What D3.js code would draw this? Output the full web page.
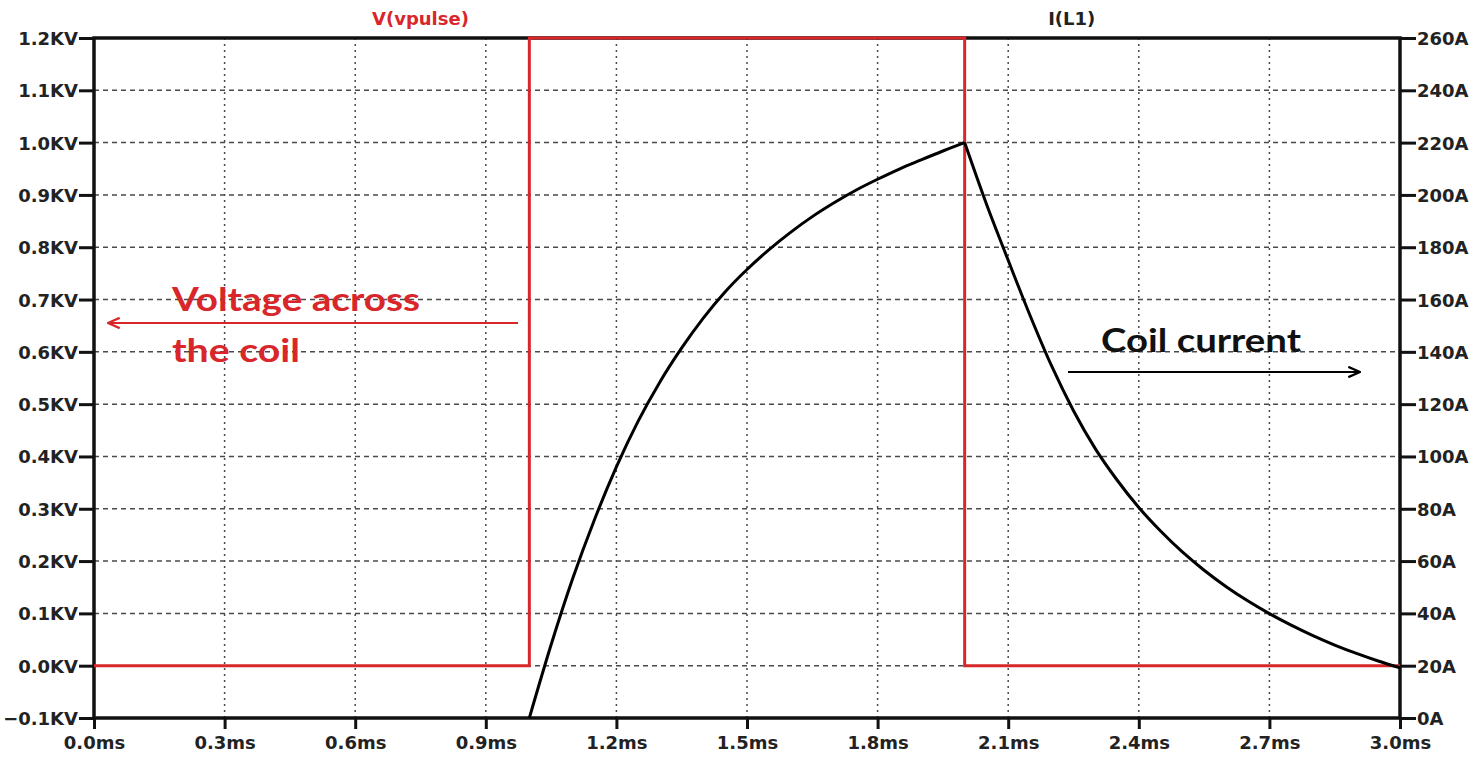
<!DOCTYPE html>
<html>
<head>
<meta charset="utf-8">
<script src="https://cdn.jsdelivr.net/npm/d3@7"></script>
<style>
  body { margin: 0; background: #fff; }
  .tick text { font-family: "DejaVu Sans", sans-serif; font-weight: bold; font-size: 18px; fill: #222; }
</style>
</head>
<body>
<div id="chart"></div>
<script>
// Tick labels / axis values
const timeTicks = [0, 0.3, 0.6, 0.9, 1.2, 1.5, 1.8, 2.1, 2.4, 2.7, 3.0];   // ms
const voltTicks = [-0.1, 0, 0.1, 0.2, 0.3, 0.4, 0.5, 0.6, 0.7, 0.8, 0.9, 1.0, 1.1, 1.2]; // KV
const ampTicks = [0, 20, 40, 60, 80, 100, 120, 140, 160, 180, 200, 220, 240, 260]; // A

// V(vpulse): square pulse
const pulseTime = [0, 1.0, 1.0, 2.0, 2.0, 3.0];
const pulseVolt = [0, 0, 1.2, 1.2, 0, 0];

// I(L1): coil current, read every 0.05ms; rising part (pulse on) and falling part (pulse off)
const riseTime = [1.0, 1.05, 1.1, 1.15, 1.2, 1.25, 1.3, 1.35, 1.4, 1.45, 1.5,
                  1.55, 1.6, 1.65, 1.7, 1.75, 1.8, 1.85, 1.9, 1.95, 2.0];
const riseAmps = [0, 28, 53.5, 76, 96, 113.5, 128.5, 141.5, 153, 163, 171.5,
                  179, 185.7, 191.7, 197, 201.8, 206, 209.9, 213.4, 216.8, 220];
const fallTime = [2.0, 2.05, 2.1, 2.15, 2.2, 2.25, 2.3, 2.35, 2.4, 2.45, 2.5,
                  2.55, 2.6, 2.65, 2.7, 2.75, 2.8, 2.85, 2.9, 2.95, 3.0];
const fallAmps = [220, 196.5, 175, 154, 134.5, 117.5, 103, 91, 80.5, 71.5, 63.5,
                  56.5, 50.3, 44.8, 39.9, 35.5, 31.5, 27.9, 24.7, 21.8, 19.2];

const red = "#d8262b";

const W = 1475, H = 759;
const margin = { top: 38, right: 75, bottom: 41, left: 94 },
    width = W - margin.left - margin.right,
    height = H - margin.top - margin.bottom;

const svg = d3.select("#chart")
    .append("svg")
    .attr("width", W)
    .attr("height", H)
    .append("g")
    .attr("transform", `translate(${margin.left},${margin.top})`);

const x = d3.scaleLinear().domain([0, 3]).range([0, width]);
const yV = d3.scaleLinear().domain([-0.1, 1.2]).range([height, 0]);
const yA = d3.scaleLinear().domain([0, 260]).range([height, 0]);

// Lưới: ngang gạch, dọc chấm
svg.append("g")
    .selectAll("line")
    .data(voltTicks.slice(1, -1))
    .enter()
    .append("line")
    .attr("x1", 0).attr("x2", width)
    .attr("y1", d => yV(d)).attr("y2", d => yV(d))
    .attr("stroke", "#4a4a4a")
    .attr("stroke-width", 1.5)
    .attr("stroke-dasharray", "5,4");

svg.append("g")
    .selectAll("line")
    .data(timeTicks.slice(1, -1))
    .enter()
    .append("line")
    .attr("x1", d => x(d)).attr("x2", d => x(d))
    .attr("y1", 0).attr("y2", height)
    .attr("stroke", "#4a4a4a")
    .attr("stroke-width", 1.5)
    .attr("stroke-dasharray", "2,4");

// Axes
const axisB = svg.append("g")
    .attr("transform", `translate(0,${height})`)
    .call(d3.axisBottom(x).tickValues(timeTicks).tickSize(11).tickPadding(7)
        .tickFormat(d => d3.format(".1f")(d) + "ms"));

const axisL = svg.append("g")
    .call(d3.axisLeft(yV).tickValues(voltTicks).tickSize(15).tickPadding(1)
        .tickFormat(d => d3.format(".1f")(d) + "KV"));

const axisR = svg.append("g")
    .attr("transform", `translate(${width},0)`)
    .call(d3.axisRight(yA).tickValues(ampTicks).tickSize(16).tickPadding(1)
        .tickFormat(d => d + "A"));

[axisB, axisL, axisR].forEach(a => {
    a.select(".domain").remove();
    a.selectAll(".tick line").attr("stroke", "#111").attr("stroke-width", 3);
});
axisL.selectAll(".tick text").attr("dy", "0.36em");
axisR.selectAll(".tick text").attr("dy", "0.36em");

// Frame
svg.append("rect")
    .attr("x", 0).attr("y", 0)
    .attr("width", width).attr("height", height)
    .attr("fill", "none")
    .attr("stroke", "#111")
    .attr("stroke-width", 3.5);

// V(vpulse)
const pulseData = pulseTime.map((t, i) => ({ t: t, v: pulseVolt[i] }));
svg.append("path")
    .datum(pulseData)
    .attr("fill", "none")
    .attr("stroke", red)
    .attr("stroke-width", 3)
    .attr("d", d3.line().x(d => x(d.t)).y(d => yV(d.v)));

// I(L1) - two segments so the peak at 2.0ms stays sharp
const currentLine = d3.line().x(d => x(d.t)).y(d => yA(d.a)).curve(d3.curveMonotoneX);
[[riseTime, riseAmps], [fallTime, fallAmps]].forEach(([ts, as]) => {
    svg.append("path")
        .datum(ts.map((t, i) => ({ t: t, a: as[i] })))
        .attr("fill", "none")
        .attr("stroke", "#000")
        .attr("stroke-width", 3)
        .attr("stroke-linejoin", "round")
        .attr("d", currentLine);
});

// Trace names
svg.append("text")
    .attr("x", x(0.75))
    .attr("y", -13)
    .attr("text-anchor", "middle")
    .style("font-family", "DejaVu Sans, sans-serif")
    .style("font-size", "18px")
    .style("font-weight", "bold")
    .attr("fill", red)
    .text("V(vpulse)");

svg.append("text")
    .attr("x", x(2.246))
    .attr("y", -13)
    .attr("text-anchor", "middle")
    .style("font-family", "DejaVu Sans, sans-serif")
    .style("font-size", "18px")
    .style("font-weight", "bold")
    .attr("fill", "#222")
    .text("I(L1)");

// Annotations
const defs = svg.append("defs");
[["headRed", red], ["headBlack", "#000"]].forEach(([id, c]) => {
    defs.append("marker")
        .attr("id", id)
        .attr("viewBox", "0 0 10 10")
        .attr("refX", 9).attr("refY", 5)
        .attr("markerWidth", 6.5).attr("markerHeight", 6.5)
        .attr("markerUnits", "strokeWidth")
        .attr("orient", "auto")
        .append("path")
        .attr("d", "M0,1 L9,5 L0,9")
        .attr("fill", "none")
        .attr("stroke", c)
        .attr("stroke-width", 1.7);
});

svg.append("line")
    .attr("x1", 518 - margin.left).attr("y1", 323 - margin.top)
    .attr("x2", 108 - margin.left).attr("y2", 323 - margin.top)
    .attr("stroke", red)
    .attr("stroke-width", 2)
    .attr("marker-end", "url(#headRed)");

svg.append("line")
    .attr("x1", 1068 - margin.left).attr("y1", 372 - margin.top)
    .attr("x2", 1360 - margin.left).attr("y2", 372 - margin.top)
    .attr("stroke", "#000")
    .attr("stroke-width", 2)
    .attr("marker-end", "url(#headBlack)");

const annoFont = "Lato, 'Open Sans', sans-serif";
const annos = [
    { text: "Voltage across", x: 172, y: 311, len: 248, color: red },
    { text: "the coil", x: 172, y: 362, len: 128, color: red },
    { text: "Coil current", x: 1101, y: 352, len: 200, color: "#111" }
];
svg.selectAll(".anno")
    .data(annos)
    .enter()
    .append("text")
    .attr("class", "anno")
    .attr("x", d => d.x - margin.left)
    .attr("y", d => d.y - margin.top)
    .attr("textLength", d => d.len)
    .attr("lengthAdjust", "spacingAndGlyphs")
    .style("font-family", annoFont)
    .style("font-size", "32px")
    .style("font-weight", "bold")
    .attr("fill", d => d.color)
    .text(d => d.text);
</script>
</body>
</html>
